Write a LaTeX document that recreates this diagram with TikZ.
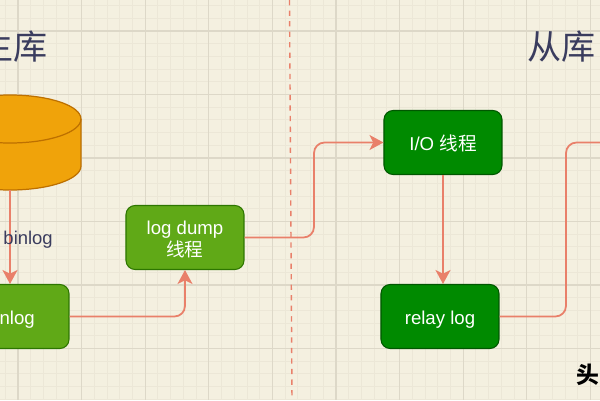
\documentclass[tikz,border=0pt]{standalone}
\usepackage{fontspec}
\setmainfont{Liberation Sans}
\newfontfamily\cjk{Noto Sans CJK SC}
\usetikzlibrary{positioning,arrows.meta}
\definecolor{paper}{HTML}{F4F0E0}
\definecolor{gridmajor}{HTML}{DDD8C8}
\definecolor{gridminor}{HTML}{ECE7D7}
\definecolor{linkred}{HTML}{E9806A}
\definecolor{titleink}{HTML}{3A3C5E}
\definecolor{lightgreen}{HTML}{60A917}
\definecolor{lightedge}{HTML}{2D7600}
\definecolor{darkgreen}{HTML}{008A00}
\definecolor{darkedge}{HTML}{005700}
\definecolor{orangefill}{HTML}{F0A30A}
\definecolor{orangeedge}{HTML}{BD7000}
\tikzset{
  masterbox/.style={draw=lightedge, fill=lightgreen, rounded corners=5.2pt, line width=0.6pt,
    minimum width=118*0.02cm, minimum height=64*0.02cm, inner sep=0pt, align=center, text=white, font=\fontsize{10.6}{12.2}\selectfont},
  slavebox/.style={masterbox, draw=darkedge, fill=darkgreen},
  oneline/.style={text height=9.6pt, text depth=1pt},
  link/.style={linkred, line width=1pt, rounded corners=6pt, -{Stealth[length=8pt,width=8.6pt,inset=2.2pt]}},
  plainlink/.style={linkred, line width=1pt, rounded corners=6pt},
  titletext/.style={text=titleink, font=\cjk\fontsize{19.4}{22}\selectfont, inner sep=0pt},
}
\begin{document}
\begin{tikzpicture}[x=0.02cm,y=-0.02cm]
    \useasboundingbox (0,0) rectangle (600,400);
    \clip (0,0) rectangle (600,400);
    \fill[paper] (0,0) rectangle (600,400);
    % paper grid
    \foreach \n in {-2,...,47} {
      \draw[gridminor, line width=0.5pt] ({18+12.72*\n},0) -- ({18+12.72*\n},400);
    }
    \foreach \n in {-3,...,31} {
      \draw[gridminor, line width=0.5pt] (0,{31+12.7*\n}) -- (600,{31+12.7*\n});
    }
    \foreach \n in {0,...,9} {
      \draw[gridmajor, line width=0.7pt] ({18+63.6*\n},0) -- ({18+63.6*\n},400);
    }
    \foreach \n in {0,...,5} {
      \draw[gridmajor, line width=0.7pt] (0,{31+63.5*\n}) -- (600,{31+63.5*\n});
    }
    % dividing line
    \coordinate (divtop) at (289.5,0);
    \coordinate (divbottom) at (292,400);
    \draw[linkred, line width=0.8pt, dash pattern=on 3pt off 3pt] (divtop) -- (divbottom);
    % titles
    \node[titletext] (mastertitle) at (13.5,46.5) {主库};
    \node[titletext] (slavetitle) at (562,46.5) {从库};
    % database
    \filldraw[draw=orangeedge, fill=orangefill, line width=0.7pt]
      (81,119) -- (81,166) arc[start angle=0, end angle=-180, x radius=1.42cm, y radius=0.48cm]
      -- (-61,119) arc[start angle=180, end angle=0, x radius=1.42cm, y radius=0.48cm] -- cycle;
    \draw[orangeedge, line width=0.7pt] (-61,119) arc[start angle=180, end angle=360, x radius=1.42cm, y radius=0.48cm];
    \coordinate (database) at (10,190);
    % boxes
    \node[masterbox, oneline] (binlogbox) at (10,316.5) {binlog};
    \node[masterbox] (dumpbox) at (185,237.5) {\rule{0pt}{10pt}log dump\\{\cjk 线程}};
    \node[slavebox, oneline] (iobox) at (443,142.5) {I/O {\cjk 线程}};
    \node[slavebox, oneline] (relaybox) at (440,316.5) {relay log};
    % links
    \coordinate (crossing) at (314,190);
    \coordinate (offpage) at (625,142.5);
    \coordinate (sideway) at (566,230);
    \draw[link] (database) -- (binlogbox.north) node[pos=0.5, text=titleink, font=\fontsize{10.5}{12}\selectfont, inner sep=0pt, anchor=west, xshift=-4.2pt, yshift=-1.5pt] (binloglabel) {binlog};
    \draw[link] (binlogbox.east) -| (dumpbox.south);
    \draw[link] (dumpbox.east) -| (crossing) |- (iobox.west);
    \draw[link] (iobox.south) -- (iobox.south |- relaybox.north);
    \draw[plainlink] (relaybox.east) -| (sideway) |- (offpage);
    % watermark
    \node[font=\cjk\bfseries\fontsize{13}{16}\selectfont, inner sep=0pt, anchor=west] (watermark) at (576,375) {头};
\end{tikzpicture}
\end{document}
